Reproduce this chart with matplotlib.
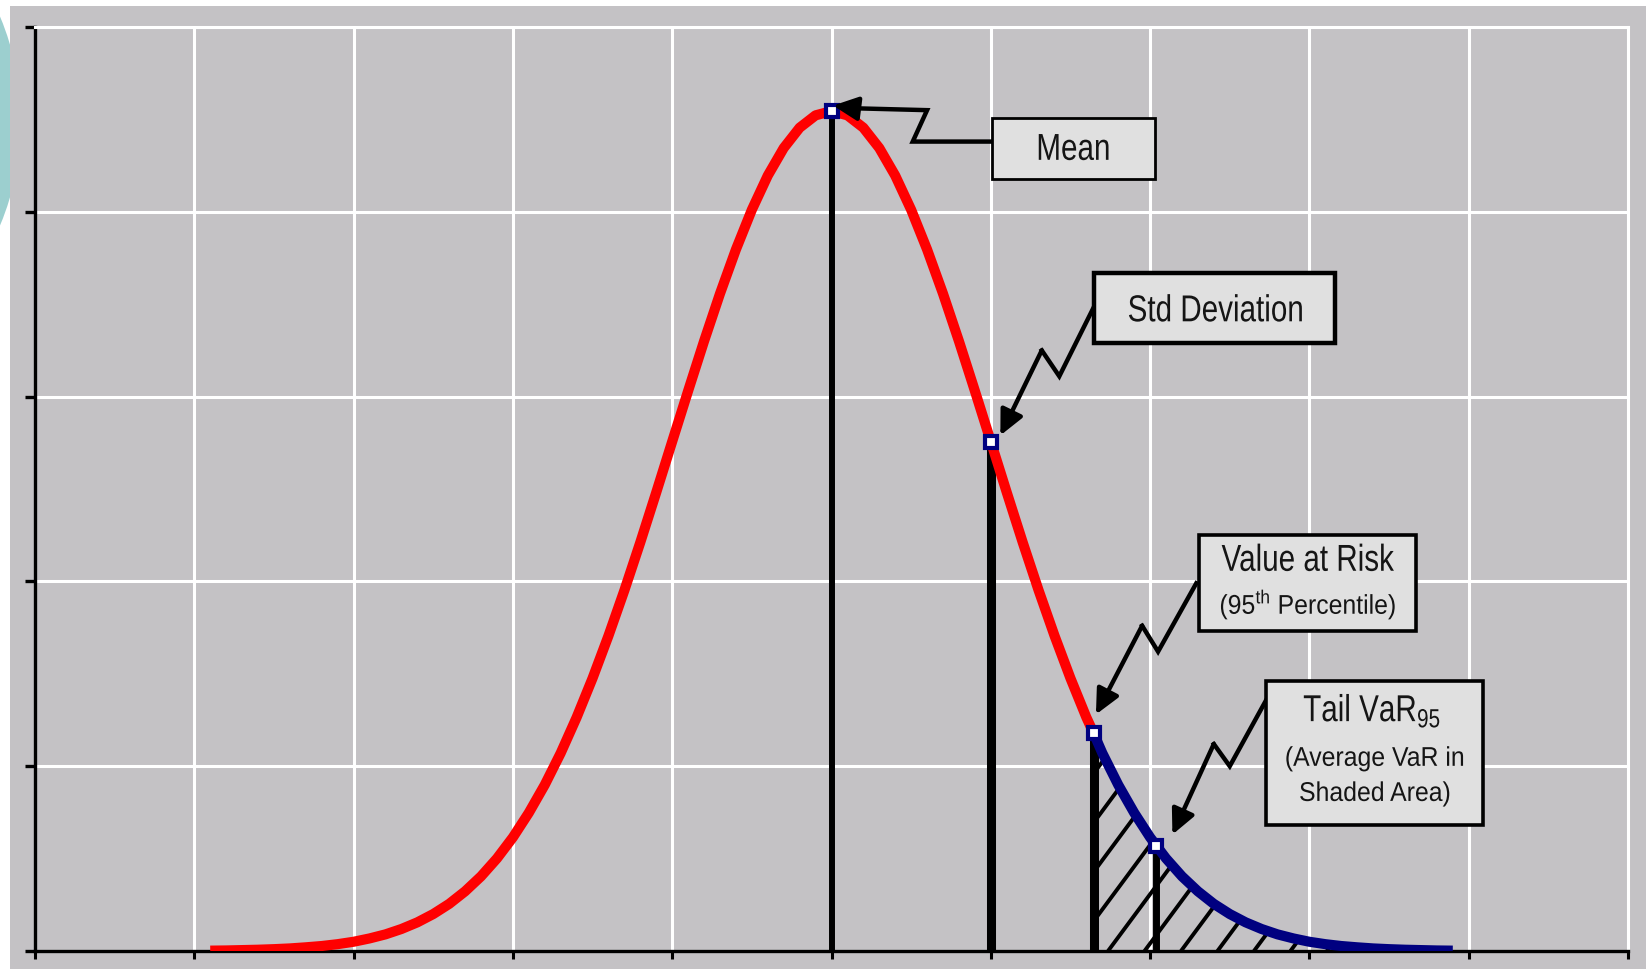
import numpy as np
import matplotlib
matplotlib.use("Agg")
import matplotlib.pyplot as plt
from matplotlib import font_manager as fm
from matplotlib.font_manager import FontProperties
from matplotlib.patches import Rectangle, Ellipse, Polygon, PathPatch
from matplotlib.textpath import TextPath
from matplotlib.transforms import Affine2D

# ---- data (x in std-dev units, mean = 5) ----
CURVE_X0 = 1.1          # first sample of the density curve
CURVE_DX = 0.1          # sample spacing
CURVE_Y = [0.002, 0.003, 0.005, 0.007, 0.010, 0.014, 0.020, 0.027, 0.037, 0.050,
           0.068, 0.090, 0.119, 0.155, 0.200, 0.255, 0.323, 0.404, 0.501, 0.615,
           0.748, 0.899, 1.071, 1.264, 1.476, 1.706, 1.952, 2.212, 2.482, 2.757,
           3.031, 3.300, 3.557, 3.796, 4.011, 4.196, 4.345, 4.455, 4.522, 4.545,
           4.522, 4.455, 4.345, 4.196, 4.011, 3.796, 3.557, 3.300, 3.031, 2.757,
           2.482, 2.212, 1.952, 1.706, 1.476, 1.264, 1.071, 0.899, 0.748, 0.615,
           0.501, 0.404, 0.323, 0.255, 0.200, 0.155, 0.119, 0.090, 0.068, 0.050,
           0.037, 0.027, 0.020, 0.014, 0.010, 0.007, 0.005, 0.003, 0.002]

# mean, std deviation, VaR 95, tail VaR 95
MARKER_X = [5.0, 6.0, 6.645, 7.04]
MARKER_Y = [4.545, 2.757, 1.18, 0.57]
MARKER_LW = [4.3, 6.5, 6.5, 5.0]

X_TICKS = list(range(0, 11))
Y_TICKS = list(range(0, 6))

GRAY = "#c4c2c5"
BOX = "#e0e0e0"
RED = "#ff0000"
NAVY = "#000080"
TXT = "#151515"

names = {f.name for f in fm.fontManager.ttflist}
FONT = "Liberation Sans Narrow" if "Liberation Sans Narrow" in names else "Liberation Sans"
SQUEEZE = 1.0 if FONT.endswith("Narrow") else 0.79   # fake a narrow face
plt.rcParams["font.family"] = [FONT, "DejaVu Sans"]
plt.rcParams["mathtext.fontset"] = "custom"
plt.rcParams["mathtext.rm"] = FONT

W, H = 1646, 970
fig = plt.figure(figsize=(W / 100, H / 100), dpi=100, facecolor="white")

# slide decoration + gray chart panel (behind the axes)
fig.patches.append(Ellipse((-250 / W, 1 - 122 / H), 2 * 271 / W, 2 * 271 / H,
                           transform=fig.transFigure, facecolor="#9ccfcf",
                           edgecolor="none", zorder=-2))
fig.patches.append(Rectangle((10 / W, 0), 1 - 10 / W, 1 - 7 / H,
                             transform=fig.transFigure, facecolor=GRAY,
                             edgecolor="none", zorder=-1))

ax = fig.add_axes([35 / W, 18 / H, 1593 / W, 924 / H])
ax.set_facecolor(GRAY)
ax.set_xlim(0, 10)
ax.set_ylim(0, 5)
ax.set_xticks(X_TICKS)
ax.set_yticks(Y_TICKS)
ax.set_xticklabels([])
ax.set_yticklabels([])
ax.set_axisbelow(True)
ax.grid(True, color="white", lw=2.2)
ax.tick_params(axis="y", direction="out", length=7.2, width=2.4, color="black")
ax.tick_params(axis="x", direction="out", length=5.5, width=2.2, color="black")
for side in ("left", "bottom"):
    ax.spines[side].set_color("black")
    ax.spines[side].set_linewidth(2.4)
for side in ("top", "right"):
    ax.spines[side].set_color("white")
    ax.spines[side].set_linewidth(2.2)

x = CURVE_X0 + CURVE_DX * np.arange(len(CURVE_Y))
y = np.array(CURVE_Y)
var_x, var_y = MARKER_X[2], MARKER_Y[2]
left = x < var_x
red_x = np.append(x[left], var_x)
red_y = np.append(y[left], var_y)
blue_x = np.insert(x[~left], 0, var_x)
blue_y = np.insert(y[~left], 0, var_y)

# hatched tail area
tail = Polygon(np.column_stack([np.concatenate([[var_x], blue_x, [blue_x[-1]]]),
                                np.concatenate([[0], blue_y, [0]])]),
               closed=True, facecolor="none", edgecolor="none")
ax.add_patch(tail)
slope = 1.35 * 159.3 / 184.8
for c in np.arange(6.736 - 0.229 * 6, 9.2, 0.229):
    hx = np.array([c, c + 5])
    ln, = ax.plot(hx, slope * (hx - c), color="black", lw=2.8, zorder=2,
                  solid_capstyle="butt")
    ln.set_clip_path(tail)

ax.vlines(MARKER_X, 0, MARKER_Y, colors="black", linewidths=MARKER_LW, zorder=3)
ax.plot(red_x, red_y, color=RED, lw=7.3, zorder=4, solid_capstyle="butt")
ax.plot(blue_x, blue_y, color=NAVY, lw=7.3, zorder=4, solid_capstyle="butt")
ax.plot(MARKER_X, MARKER_Y, ls="none", marker="s", ms=8, mfc="white",
        mec=NAVY, mew=3.0, zorder=5)

# lightning-bolt callouts: (path, arrow tip)
callouts = [
    ([(6.01, 4.38), (5.51, 4.38), (5.60, 4.55), (5.15, 4.56)], (5.01, 4.575)),
    ([(6.65, 3.49), (6.43, 3.11), (6.32, 3.25)], (6.06, 2.79)),
    ([(7.29, 1.99), (7.05, 1.62), (6.95, 1.76)], (6.66, 1.28)),
    ([(7.73, 1.36), (7.50, 1.00), (7.40, 1.12)], (7.14, 0.63)),
]
for pts, tip in callouts:
    px, py = zip(*pts)
    ax.plot(px, py, color="black", lw=3.2, zorder=6, solid_joinstyle="miter")
    ax.annotate("", xy=tip, xytext=pts[-1],
                arrowprops=dict(arrowstyle="-|>,head_length=0.75,head_width=0.36",
                                color="black", lw=3.2, mutation_scale=20,
                                shrinkA=0, shrinkB=0), zorder=6)

# label boxes (x0, x1, y0, y1) and their border widths
boxes = [((6.01, 7.03, 4.18, 4.51), 2.0),
         ((6.65, 8.16, 3.29, 3.67), 3.2),
         ((7.31, 8.67, 1.73, 2.25), 2.6),
         ((7.73, 9.09, 0.68, 1.46), 2.6)]
for (x0, x1, y0, y1), lw in boxes:
    ax.add_patch(Rectangle((x0, y0), x1 - x0, y1 - y0, facecolor=BOX,
                           edgecolor="black", lw=lw, zorder=7))


def narrow_text(xd, yd, s, size, squeeze=SQUEEZE):
    """Centred label drawn as a path so it can be squeezed horizontally."""
    tp = TextPath((0, 0), s, prop=FontProperties(family=FONT, size=size))
    ext = tp.get_extents()
    cx, cy = (ext.x0 + ext.x1) / 2, (ext.y0 + ext.y1) / 2
    k = fig.dpi / 72
    X, Y = ax.transData.transform((xd, yd))
    tr = Affine2D().translate(-cx, -cy).scale(squeeze * k, k).translate(X, Y)
    ax.add_artist(PathPatch(tp, transform=tr, facecolor=TXT, edgecolor="none",
                            zorder=8))


small = min(1.0, SQUEEZE * 1.16)
narrow_text(6.52, 4.35, "Mean", 27)
narrow_text(7.41, 3.48, "Std Deviation", 27)
narrow_text(7.99, 2.13, "Value at Risk", 27)
narrow_text(7.99, 1.875, r"(95$^{\mathrm{th}}$ Percentile)", 19.5, small)
narrow_text(8.39, 1.30, r"Tail VaR$_{\mathrm{95}}$", 27)
narrow_text(8.41, 1.04, "(Average VaR in", 19.5, small)
narrow_text(8.41, 0.85, "Shaded Area)", 19.5, small)

fig.savefig("out.png", dpi=100, facecolor="white")
